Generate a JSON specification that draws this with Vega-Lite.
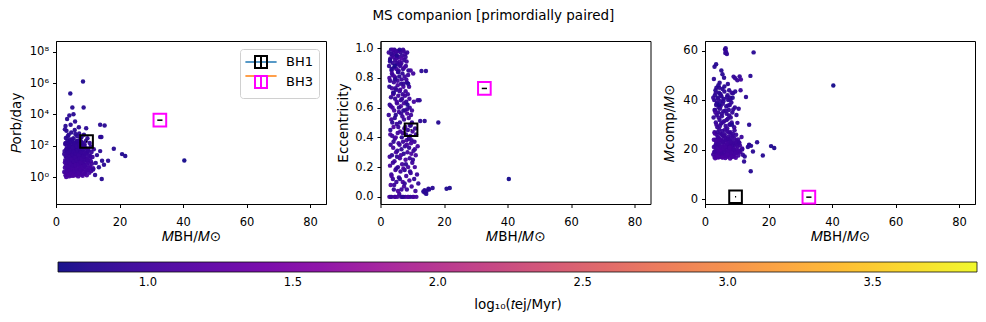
{
  "$schema": "https://vega.github.io/schema/vega-lite/v6.json",
  "padding": {"left": 8, "top": 9, "right": 9, "bottom": 5},
  "background": "white",
  "title": {"text": "MS companion [primordially paired]", "fontSize": 13.5, "fontWeight": "normal", "font": "DejaVu Sans", "color": "black", "anchor": "middle", "offset": 18},
  "bounds": "flush",
  "spacing": 54.5,
  "datasets": {
    "bh": [
      {"name": "BH1", "nm2": "b1", "m": 9.62, "lo": 9.44, "hi": 9.80, "p": 185.59, "e": 0.451, "mc": 0.93},
      {"name": "BH3", "nm2": "b3", "m": 32.7, "lo": 31.88, "hi": 33.52, "p": 4253, "e": 0.729, "mc": 0.76}
    ],
    "pts": [
      {"m":2.6,"p":2.1,"e":0.97,"mc":18,"t":0.97},{"m":2.7,"p":45,"e":0.88,"mc":33,"t":0.9},{"m":2.8,"p":8.5,"e":0.0,"mc":21,"t":1.02},{"m":2.9,"p":130,"e":0.62,"mc":40,"t":0.87},{"m":3.0,"p":1.3,"e":0.21,"mc":17,"t":1.04},{"m":3.0,"p":22,"e":0.78,"mc":27,"t":0.92},{"m":3.1,"p":310,"e":0.45,"mc":42,"t":0.84},{"m":3.1,"p":5.2,"e":0.93,"mc":19,"t":1.0},{"m":3.2,"p":60,"e":0.35,"mc":36,"t":0.95},{"m":3.2,"p":1.0,"e":0.08,"mc":16.5,"t":1.07},
      {"m":3.3,"p":18,"e":0.67,"mc":24,"t":0.89},{"m":3.3,"p":900,"e":0.99,"mc":44,"t":0.82},{"m":3.4,"p":3.4,"e":0.52,"mc":20,"t":1.02},{"m":3.4,"p":95,"e":0.15,"mc":31,"t":0.92},{"m":3.5,"p":12,"e":0.85,"mc":22.5,"t":0.96},{"m":3.5,"p":40,"e":0.0,"mc":38,"t":0.88},{"m":3.6,"p":2.6,"e":0.73,"mc":18.5,"t":1.05},{"m":3.6,"p":210,"e":0.28,"mc":45,"t":0.85},{"m":3.7,"p":7,"e":0.95,"mc":26,"t":0.98},{"m":3.7,"p":33,"e":0.41,"mc":34,"t":0.92},
      {"m":3.8,"p":1.5,"e":0.6,"mc":17.5,"t":1.06},{"m":3.8,"p":150,"e":0.82,"mc":39,"t":0.87},{"m":3.9,"p":9.5,"e":0.12,"mc":23,"t":0.94},{"m":3.9,"p":70,"e":0.9,"mc":29,"t":0.91},{"m":4.0,"p":4.2,"e":0.33,"mc":19.5,"t":1.01},{"m":4.0,"p":500,"e":0.7,"mc":41,"t":0.83},{"m":4.1,"p":27,"e":0.97,"mc":25,"t":0.93},{"m":4.1,"p":1.1,"e":0.47,"mc":16.8,"t":1.08},{"m":4.2,"p":110,"e":0.05,"mc":35,"t":0.89},{"m":4.2,"p":15,"e":0.77,"mc":21.5,"t":0.97},
      {"m":4.3,"p":2.9,"e":0.58,"mc":18.2,"t":1.03},{"m":4.3,"p":55,"e":0.87,"mc":37,"t":0.9},{"m":4.4,"p":6.5,"e":0.24,"mc":24.5,"t":0.99},{"m":4.4,"p":250,"e":0.99,"mc":43,"t":0.85},{"m":4.5,"p":20,"e":0.39,"mc":28,"t":0.94},{"m":4.5,"p":1.7,"e":0.0,"mc":17,"t":1.05},{"m":4.6,"p":85,"e":0.66,"mc":32,"t":0.91},{"m":4.6,"p":11,"e":0.92,"mc":22,"t":0.96},{"m":4.7,"p":3.8,"e":0.18,"mc":19,"t":1.02},{"m":4.7,"p":38,"e":0.8,"mc":36.5,"t":0.89},
      {"m":4.8,"p":700,"e":0.55,"mc":42.5,"t":0.82},{"m":4.8,"p":8,"e":0.96,"mc":26.5,"t":0.98},{"m":4.9,"p":1.2,"e":0.3,"mc":18.8,"t":1.07},{"m":4.9,"p":130,"e":0.72,"mc":39.5,"t":0.88},{"m":5.0,"p":25,"e":0.1,"mc":23.5,"t":0.95},{"m":5.0,"p":5,"e":0.86,"mc":20.5,"t":1.0},{"m":5.1,"p":65,"e":0.49,"mc":30.5,"t":0.92},{"m":5.1,"p":2.2,"e":0.93,"mc":17.8,"t":1.04},{"m":5.2,"p":180,"e":0.27,"mc":41.5,"t":0.86},{"m":5.2,"p":14,"e":0.63,"mc":24,"t":0.97},
      {"m":5.3,"p":3.1,"e":0.0,"mc":19.2,"t":1.02},{"m":5.3,"p":48,"e":0.89,"mc":33.5,"t":0.91},{"m":5.4,"p":9,"e":0.43,"mc":21.2,"t":0.99},{"m":5.4,"p":1.4,"e":0.75,"mc":16.9,"t":1.06},{"m":5.5,"p":300,"e":0.98,"mc":44.5,"t":0.84},{"m":5.5,"p":30,"e":0.2,"mc":27.5,"t":0.93},{"m":5.6,"p":6,"e":0.68,"mc":22.8,"t":0.98},{"m":5.6,"p":100,"e":0.84,"mc":38.5,"t":0.89},{"m":5.7,"p":2,"e":0.36,"mc":18,"t":1.04},{"m":5.7,"p":18,"e":0.94,"mc":25.5,"t":0.95},
      {"m":5.8,"p":75,"e":0.13,"mc":35.5,"t":0.9},{"m":5.8,"p":4.5,"e":0.57,"mc":20,"t":1.01},{"m":5.9,"p":1000,"e":0.81,"mc":40.5,"t":0.83},{"m":5.9,"p":12,"e":0.02,"mc":23.2,"t":0.97},{"m":6.0,"p":42,"e":0.71,"mc":31.5,"t":0.92},{"m":6.0,"p":1.6,"e":0.91,"mc":17.3,"t":1.05},{"m":6.1,"p":8,"e":0.26,"mc":21.8,"t":0.99},{"m":6.1,"p":160,"e":0.5,"mc":43.5,"t":0.87},{"m":6.2,"p":22,"e":0.88,"mc":26.2,"t":0.94},{"m":6.2,"p":3.5,"e":0.44,"mc":19.7,"t":1.02},
      {"m":6.3,"p":60,"e":0.97,"mc":60.5,"t":0.88},{"m":6.4,"p":90,"e":0.65,"mc":59.0,"t":0.89},{"m":6.5,"p":200,"e":0.76,"mc":61,"t":0.87},{"m":6.6,"p":50,"e":0.32,"mc":59.7,"t":0.9},{"m":6.9,"p":140,"e":0.83,"mc":58.6,"t":0.88},{"m":6.3,"p":10,"e":0.17,"mc":24.8,"t":0.98},{"m":6.4,"p":1.3,"e":0.61,"mc":16.6,"t":1.06},{"m":6.5,"p":28,"e":0.0,"mc":29.5,"t":0.93},{"m":6.6,"p":5.5,"e":0.9,"mc":20.8,"t":1.0},{"m":6.7,"p":400,"e":0.4,"mc":37.5,"t":0.85},
      {"m":6.7,"p":15,"e":0.79,"mc":23.8,"t":0.96},{"m":6.8,"p":2.5,"e":0.22,"mc":18.4,"t":1.03},{"m":6.8,"p":80,"e":0.95,"mc":34.5,"t":0.91},{"m":6.9,"p":7.5,"e":0.54,"mc":21,"t":0.99},{"m":7.0,"p":35,"e":0.69,"mc":28.5,"t":0.94},{"m":7.0,"p":1.1,"e":0.1,"mc":17.1,"t":1.08},{"m":7.1,"p":120,"e":0.86,"mc":42,"t":0.88},{"m":7.1,"p":11,"e":0.37,"mc":22.2,"t":0.97},{"m":7.2,"p":3,"e":0.74,"mc":19.4,"t":1.02},{"m":7.2,"p":55,"e":0.0,"mc":32.5,"t":0.92},
      {"m":7.3,"p":20,"e":0.98,"mc":25.2,"t":0.95},{"m":7.3,"p":600,"e":0.29,"mc":40,"t":0.84},{"m":7.4,"p":4,"e":0.63,"mc":20.3,"t":1.01},{"m":7.4,"p":1.8,"e":0.07,"mc":17.7,"t":1.05},{"m":7.5,"p":70,"e":0.92,"mc":36,"t":0.9},{"m":7.5,"p":9,"e":0.46,"mc":23.6,"t":0.98},{"m":7.6,"p":250,"e":0.18,"mc":44,"t":0.86},{"m":7.6,"p":16,"e":0.81,"mc":26.8,"t":0.96},{"m":7.7,"p":2.3,"e":0.58,"mc":18.6,"t":1.04},{"m":7.7,"p":40,"e":0.34,"mc":30,"t":0.93},
      {"m":7.8,"p":6.8,"e":0.96,"mc":21.6,"t":0.99},{"m":7.8,"p":110,"e":0.0,"mc":38,"t":0.89},{"m":7.9,"p":13,"e":0.71,"mc":24.2,"t":0.97},{"m":7.9,"p":1.4,"e":0.25,"mc":16.4,"t":1.07},{"m":8.0,"p":30,"e":0.88,"mc":27,"t":0.94},{"m":8.0,"p":350,"e":0.42,"mc":41,"t":0.85},{"m":8.1,"p":4.8,"e":0.14,"mc":19.9,"t":1.01},{"m":8.1,"p":65,"e":0.64,"mc":33,"t":0.91},{"m":8.2,"p":10,"e":0.91,"mc":22.7,"t":0.98},{"m":8.2,"p":2.7,"e":0.38,"mc":18.1,"t":1.03},
      {"m":8.3,"p":150,"e":0.77,"mc":39,"t":0.88},{"m":8.3,"p":23,"e":0.05,"mc":25.7,"t":0.95},{"m":8.4,"p":1.2,"e":0.56,"mc":17.4,"t":1.06},{"m":8.4,"p":50,"e":0.97,"mc":31,"t":0.92},{"m":8.5,"p":7.2,"e":0.3,"mc":21.4,"t":0.99},{"m":8.6,"p":85,"e":0.45,"mc":35,"t":0.9},{"m":8.6,"p":17,"e":0.69,"mc":23.4,"t":0.96},{"m":8.7,"p":3.3,"e":0.2,"mc":19.6,"t":1.02},{"m":8.8,"p":500,"e":0.85,"mc":42.8,"t":0.84},{"m":8.8,"p":28,"e":0.0,"mc":26.4,"t":0.94},
      {"m":8.9,"p":5.8,"e":0.53,"mc":20.6,"t":1.0},{"m":9.0,"p":120,"e":0.33,"mc":49.5,"t":0.89},{"m":9.0,"p":12,"e":0.74,"mc":22.4,"t":0.97},{"m":9.1,"p":1.6,"e":0.11,"mc":17.2,"t":1.05},{"m":9.2,"p":45,"e":0.6,"mc":29,"t":0.93},{"m":9.2,"p":9,"e":0.26,"mc":24.6,"t":0.98},{"m":9.3,"p":2.1,"e":0.48,"mc":18.3,"t":1.04},{"m":9.4,"p":200,"e":0.0,"mc":37,"t":0.87},{"m":9.4,"p":20,"e":0.41,"mc":21.9,"t":0.95},{"m":9.5,"p":4,"e":0.85,"mc":19.1,"t":1.01},
      {"m":9.5,"p":70,"e":0.16,"mc":48.8,"t":0.91},{"m":9.6,"p":14,"e":0.55,"mc":23,"t":0.97},{"m":9.7,"p":1.3,"e":0.29,"mc":16.7,"t":1.07},{"m":9.8,"p":35,"e":0.38,"mc":26,"t":0.94},{"m":9.8,"p":6.2,"e":0.07,"mc":20.1,"t":1.0},{"m":9.9,"p":300,"e":0.5,"mc":34,"t":0.86},{"m":10.0,"p":11,"e":0.23,"mc":22.1,"t":0.97},{"m":10.1,"p":2.8,"e":0.44,"mc":18.7,"t":1.03},{"m":10.2,"p":55,"e":0.0,"mc":48,"t":0.92},{"m":10.3,"p":8,"e":0.83,"mc":21.3,"t":0.99},
      {"m":10.4,"p":25,"e":0.31,"mc":24.1,"t":0.95},{"m":10.5,"p":1.9,"e":0.64,"mc":17.6,"t":1.04},{"m":10.6,"p":150,"e":0.12,"mc":36.5,"t":0.88},{"m":10.7,"p":16,"e":0.37,"mc":22.9,"t":0.96},{"m":10.8,"p":4.6,"e":0.2,"mc":19.3,"t":1.01},{"m":10.9,"p":90,"e":0.46,"mc":49.6,"t":0.9},{"m":11.0,"p":10,"e":0.04,"mc":21.7,"t":0.98},{"m":11.1,"p":2.4,"e":0.28,"mc":18.9,"t":1.03},{"m":11.2,"p":40,"e":0.42,"mc":44,"t":0.93},{"m":11.3,"p":7,"e":0.0,"mc":48.3,"t":0.99},
      {"m":11.5,"p":19,"e":0.15,"mc":25.1,"t":0.95},{"m":11.7,"p":3.6,"e":0.34,"mc":20.4,"t":1.02},{"m":11.9,"p":60,"e":0.09,"mc":17.9,"t":0.91},
      {"m":2.6,"p":30,"e":0.55,"mc":41,"t":0.92},{"m":2.8,"p":3.9,"e":0.8,"mc":24,"t":1.02},{"m":2.9,"p":12,"e":0.27,"mc":19,"t":0.98},{"m":3.0,"p":150,"e":0.91,"mc":36,"t":0.87},{"m":3.1,"p":1.9,"e":0.42,"mc":26.5,"t":1.05},{"m":3.2,"p":25,"e":0.0,"mc":21.5,"t":0.95},{"m":3.3,"p":7.8,"e":0.61,"mc":35,"t":0.99},{"m":3.4,"p":60,"e":0.96,"mc":43,"t":0.9},{"m":3.5,"p":2.3,"e":0.14,"mc":23.5,"t":1.04},{"m":3.6,"p":14,"e":0.83,"mc":30,"t":0.97},
      {"m":3.7,"p":400,"e":0.5,"mc":38.5,"t":0.84},{"m":3.8,"p":4.7,"e":0.99,"mc":20.5,"t":1.01},{"m":3.9,"p":35,"e":0.23,"mc":27,"t":0.93},{"m":4.0,"p":1.4,"e":0.69,"mc":17.3,"t":1.07},{"m":4.1,"p":90,"e":0.37,"mc":40.5,"t":0.89},{"m":4.2,"p":8.8,"e":0.94,"mc":22.3,"t":0.98},{"m":4.3,"p":19,"e":0.08,"mc":33,"t":0.95},{"m":4.4,"p":2.7,"e":0.81,"mc":18.6,"t":1.03},{"m":4.5,"p":180,"e":0.53,"mc":45,"t":0.87},{"m":4.6,"p":6.1,"e":0.0,"mc":24,"t":1.0},
      {"m":4.7,"p":45,"e":0.73,"mc":29.5,"t":0.92},{"m":4.8,"p":1.6,"e":0.4,"mc":19.8,"t":1.06},{"m":4.9,"p":13,"e":0.98,"mc":37.5,"t":0.97},{"m":5.0,"p":250,"e":0.19,"mc":42,"t":0.86},{"m":5.1,"p":3.6,"e":0.64,"mc":21,"t":1.02},{"m":5.2,"p":28,"e":0.9,"mc":26,"t":0.94},{"m":5.3,"p":75,"e":0.31,"mc":34.5,"t":0.91},{"m":5.4,"p":5.3,"e":0.78,"mc":18.3,"t":1.0},{"m":5.5,"p":1.2,"e":0.04,"mc":16.8,"t":1.08},{"m":5.6,"p":40,"e":0.47,"mc":31,"t":0.93},
      {"m":5.7,"p":9.7,"e":0.85,"mc":23.3,"t":0.98},{"m":5.8,"p":130,"e":0.6,"mc":39.5,"t":0.88},{"m":5.9,"p":2.4,"e":0.98,"mc":20.2,"t":1.04},{"m":6.0,"p":17,"e":0.35,"mc":25.5,"t":0.96},{"m":6.1,"p":550,"e":0.12,"mc":45.5,"t":0.83},{"m":6.2,"p":5.9,"e":0.72,"mc":19,"t":1.01},{"m":6.3,"p":32,"e":0.89,"mc":28,"t":0.94},{"m":6.4,"p":3.2,"e":0.28,"mc":21.3,"t":1.03},{"m":6.5,"p":95,"e":0.56,"mc":35.8,"t":0.9},{"m":6.6,"p":11.5,"e":0.05,"mc":23.9,"t":0.97},
      {"m":6.7,"p":1.5,"e":0.93,"mc":17.6,"t":1.06},{"m":6.8,"p":48,"e":0.66,"mc":32,"t":0.92},{"m":6.9,"p":200,"e":0.0,"mc":41.2,"t":0.87},{"m":7.0,"p":6.6,"e":0.43,"mc":22.6,"t":1.0},{"m":7.1,"p":24,"e":0.99,"mc":27.3,"t":0.95},{"m":7.2,"p":1.9,"e":0.19,"mc":18.2,"t":1.05},{"m":7.3,"p":115,"e":0.76,"mc":37.8,"t":0.89},{"m":7.4,"p":15,"e":0.52,"mc":24.4,"t":0.96},{"m":7.5,"p":3.7,"e":0.87,"mc":19.5,"t":1.02},{"m":7.6,"p":60,"e":0.09,"mc":33.8,"t":0.91},
      {"m":7.7,"p":9.2,"e":0.68,"mc":21.1,"t":0.99},{"m":7.8,"p":2.9,"e":0.47,"mc":20.7,"t":1.03},{"m":7.9,"p":38,"e":0.94,"mc":30.2,"t":0.94},{"m":8.0,"p":170,"e":0.22,"mc":40.2,"t":0.88},{"m":8.1,"p":14,"e":0.79,"mc":23.1,"t":0.97},{"m":8.3,"p":4.3,"e":0.35,"mc":18.8,"t":1.02},{"m":8.4,"p":65,"e":0.59,"mc":43,"t":0.91},{"m":8.5,"p":1.7,"e":0.0,"mc":17,"t":1.05},{"m":8.7,"p":21,"e":0.82,"mc":25.3,"t":0.95},{"m":8.9,"p":100,"e":0.39,"mc":36.2,"t":0.89},
      {"m":9.1,"p":5.1,"e":0.66,"mc":20,"t":1.0},{"m":9.3,"p":32,"e":0.17,"mc":27.8,"t":0.94},{"m":9.6,"p":2.6,"e":0.36,"mc":18.5,"t":1.03},{"m":9.9,"p":13,"e":0.58,"mc":23.7,"t":0.97},{"m":10.2,"p":46,"e":0.25,"mc":30.8,"t":0.92},{"m":10.5,"p":3.8,"e":0.0,"mc":19.7,"t":1.02},{"m":10.8,"p":22,"e":0.32,"mc":22.8,"t":0.95},
      {"m":4.5,"p":215000,"e":0.88,"mc":38,"t":0.77},{"m":8.5,"p":1260000,"e":0.62,"mc":30,"t":0.77},{"m":8.7,"p":27500,"e":0.76,"mc":41,"t":0.8},{"m":5.15,"p":27500,"e":0.95,"mc":52,"t":0.8},{"m":4.2,"p":8500,"e":0.7,"mc":46,"t":0.82},{"m":5.5,"p":10000,"e":0.84,"mc":50.5,"t":0.82},{"m":3.0,"p":1800,"e":0.92,"mc":53.5,"t":0.82},{"m":6.0,"p":3500,"e":0.99,"mc":49,"t":0.82},{"m":4.6,"p":2200,"e":0.79,"mc":47,"t":0.84},{"m":7.2,"p":1500,"e":0.58,"mc":46.5,"t":0.84},{"m":3.5,"p":5000,"e":0.86,"mc":54.5,"t":0.81},{"m":9.5,"p":1300,"e":0.48,"mc":43.5,"t":0.84},{"m":2.8,"p":1100,"e":0.74,"mc":48.5,"t":0.84},
      {"m":40.4,"p":11.5,"e":0.12,"mc":45.9,"t":0.72},{"m":20.8,"p":29,"e":0.055,"mc":21.4,"t":0.77},{"m":21.8,"p":22,"e":0.06,"mc":20.6,"t":0.77},{"m":18.2,"p":63,"e":0.5,"mc":17.6,"t":0.8},{"m":16.4,"p":11,"e":0.06,"mc":23.0,"t":0.82},{"m":15.1,"p":6,"e":0.055,"mc":19.2,"t":0.82},{"m":14.5,"p":11,"e":0.04,"mc":21.5,"t":0.82},{"m":13.5,"p":4.2,"e":0.036,"mc":21.0,"t":0.82},{"m":14.4,"p":0.74,"e":0.02,"mc":11.2,"t":0.8},{"m":15.3,"p":1950,"e":0.05,"mc":59.3,"t":0.82},
      {"m":13.9,"p":2150,"e":0.51,"mc":30.0,"t":0.82},{"m":14.3,"p":355,"e":0.846,"mc":49.8,"t":0.82},{"m":13.9,"p":355,"e":0.045,"mc":22,"t":0.84},{"m":13.9,"p":45,"e":0.03,"mc":21.8,"t":0.84},{"m":12.3,"p":1.35,"e":0.65,"mc":15.2,"t":0.84},{"m":12.5,"p":8,"e":0.51,"mc":17.2,"t":0.84},{"m":12.9,"p":25,"e":0.846,"mc":41.3,"t":0.84},{"m":11.7,"p":3,"e":0.65,"mc":20,"t":0.92}
    ]
  },
  "hconcat": [
    {
      "width": 270, "height": 163,
      "layer": [
        {"data": {"name": "pts"}, "mark": {"type": "circle", "size": 20, "opacity": 0.95},
         "encoding": {
           "x": {"field": "m", "type": "quantitative", "scale": {"domain": [0, 85], "nice": false, "zero": false}, "axis": {"values": [0, 20, 40, 60, 80], "tickCount": 10, "title": "𝑀BH/𝑀⊙"}},
           "y": {"field": "p", "type": "quantitative", "scale": {"type": "log", "domain": [0.019, 480000000], "nice": false}, "axis": {"values": [1, 100, 10000, 1000000, 100000000], "tickCount": 10, "labelExpr": "datum.value < 10 ? '10⁰' : datum.value < 1000 ? '10²' : datum.value < 100000 ? '10⁴' : datum.value < 10000000 ? '10⁶' : '10⁸'", "title": "𝑃orb/day", "titlePadding": 6}},
           "fill": {"field": "t", "type": "quantitative", "scale": {"scheme": "plasma", "domain": [0.69, 3.86], "nice": false, "zero": false},
             "legend": {"orient": "none", "direction": "horizontal", "legendX": 2, "legendY": 221, "gradientLength": 919, "gradientThickness": 10, "gradientStrokeColor": "black", "gradientStrokeWidth": 0.8, "values": [1, 1.5, 2, 2.5, 3, 3.5], "format": ".1f", "labelFontSize": 11.5, "labelColor": "black", "labelOffset": 5, "title": "log₁₀(𝑡ej/Myr)", "titleOrient": "bottom", "titleAnchor": "middle", "titleFontSize": 13.5, "titleFontWeight": "normal", "titleColor": "black", "titlePadding": 9, "labelOverlap": false}}
         }},
        {"data": {"name": "bh"}, "mark": {"type": "rule", "strokeWidth": 1.5, "opacity": 0},
         "encoding": {
           "x": {"field": "lo", "type": "quantitative"}, "x2": {"field": "hi"},
           "y": {"field": "p", "type": "quantitative"},
           "color": {"field": "nm2", "type": "nominal", "scale": {"domain": ["b1", "b3"], "range": ["#1f77b4", "#ff7f0e"]},
             "legend": {"orient": "none", "legendX": 184, "legendY": 8, "title": null, "symbolType": "M-2.6,0H2.6", "symbolSize": 144, "symbolStrokeWidth": 1.5, "symbolOpacity": 1, "symbolOffset": 8, "labelFontSize": 13, "labelExpr": "''", "rowPadding": 0, "padding": 6, "labelOffset": 18}}
         }},
        {"data": {"name": "bh"}, "mark": {"type": "rule", "strokeWidth": 1.5, "color": "black"},
         "encoding": {
           "x": {"field": "lo", "type": "quantitative"}, "x2": {"field": "hi"},
           "y": {"field": "p", "type": "quantitative"}
         }},
        {"data": {"name": "bh"}, "mark": {"type": "point", "shape": "square", "filled": false, "size": 160, "strokeWidth": 2, "opacity": 1},
         "encoding": {
           "x": {"field": "m", "type": "quantitative"},
           "y": {"field": "p", "type": "quantitative"},
           "stroke": {"field": "name", "type": "nominal", "scale": {"domain": ["BH1", "BH3"], "range": ["black", "magenta"]},
             "legend": {"orient": "none", "legendX": 184, "legendY": 8, "title": null, "symbolType": "M-2.6,0M2.6,0M-1,-1H1V1H-1ZM0,-1V1", "symbolSize": 144, "symbolStrokeWidth": 2, "symbolFillColor": "transparent", "symbolOffset": 8, "labelFontSize": 13, "labelColor": "black", "rowPadding": 0, "padding": 6, "labelOffset": 18, "strokeColor": "#d0d0d0", "cornerRadius": 3}}
         }}
      ]
    },
    {
      "width": 270, "height": 163,
      "layer": [
        {"data": {"name": "pts"}, "mark": {"type": "circle", "size": 20, "opacity": 0.95},
         "encoding": {
           "x": {"field": "m", "type": "quantitative", "scale": {"domain": [0, 85], "nice": false, "zero": false}, "axis": {"values": [0, 20, 40, 60, 80], "tickCount": 10, "title": "𝑀BH/𝑀⊙"}},
           "y": {"field": "e", "type": "quantitative", "scale": {"domain": [-0.048, 1.048], "nice": false, "zero": false}, "axis": {"values": [0, 0.2, 0.4, 0.6, 0.8, 1.0], "tickCount": 10, "format": ".1f", "title": "Eccentricity", "titlePadding": 4}},
           "fill": {"field": "t", "type": "quantitative"}
         }},
        {"data": {"name": "bh"}, "mark": {"type": "rule", "strokeWidth": 1.5, "color": "black"},
         "encoding": {
           "x": {"field": "lo", "type": "quantitative"}, "x2": {"field": "hi"},
           "y": {"field": "e", "type": "quantitative"}
         }},
        {"data": {"name": "bh"}, "mark": {"type": "point", "shape": "square", "filled": false, "size": 160, "strokeWidth": 2, "opacity": 1},
         "encoding": {
           "x": {"field": "m", "type": "quantitative"},
           "y": {"field": "e", "type": "quantitative"},
           "stroke": {"field": "name", "type": "nominal"}
         }}
      ]
    },
    {
      "width": 270, "height": 163,
      "layer": [
        {"data": {"name": "pts"}, "mark": {"type": "circle", "size": 20, "opacity": 0.95},
         "encoding": {
           "x": {"field": "m", "type": "quantitative", "scale": {"domain": [0, 85], "nice": false, "zero": false}, "axis": {"values": [0, 20, 40, 60, 80], "tickCount": 10, "title": "𝑀BH/𝑀⊙"}},
           "y": {"field": "mc", "type": "quantitative", "scale": {"domain": [-2.0, 63.9], "nice": false, "zero": false}, "axis": {"values": [0, 20, 40, 60], "tickCount": 10, "title": "𝑀comp/𝑀⊙", "titlePadding": 6}},
           "fill": {"field": "t", "type": "quantitative"}
         }},
        {"data": {"name": "bh"}, "mark": {"type": "rule", "strokeWidth": 1.5, "color": "black"},
         "encoding": {
           "x": {"field": "lo", "type": "quantitative"}, "x2": {"field": "hi"},
           "y": {"field": "mc", "type": "quantitative"}
         }},
        {"data": {"name": "bh"}, "mark": {"type": "point", "shape": "square", "filled": false, "size": 160, "strokeWidth": 2, "opacity": 1},
         "encoding": {
           "x": {"field": "m", "type": "quantitative"},
           "y": {"field": "mc", "type": "quantitative"},
           "stroke": {"field": "name", "type": "nominal"}
         }}
      ]
    }
  ],
  "config": {
    "font": "DejaVu Sans",
    "view": {"stroke": "black", "strokeWidth": 1},
    "axis": {"grid": false, "domain": true, "domainColor": "black", "tickColor": "black", "tickSize": 3.5, "labelFontSize": 11.5, "labelColor": "black", "titleFontSize": 13.5, "titleFontWeight": "normal", "titleColor": "black", "labelPadding": 4, "titlePadding": 4, "labelFont": "DejaVu Sans", "titleFont": "DejaVu Sans", "labelOverlap": false, "labelFlush": false},
    "axisX": {"labelPadding": 9, "titlePadding": 1},
    "legend": {"labelFont": "DejaVu Sans", "titleFont": "DejaVu Sans"}
  }
}
